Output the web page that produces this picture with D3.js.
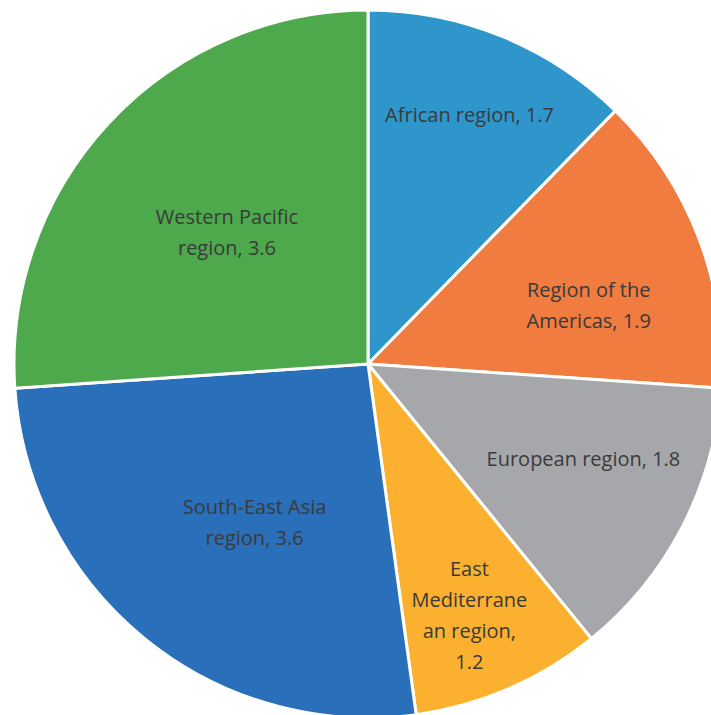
<!DOCTYPE html>
<meta charset="utf-8">
<script src="https://d3js.org/d3.v7.min.js"></script>
<style>
  body { margin: 0; background: #fff; }
</style>
<div id="my_dataviz"></div>
<script>
    // data, clockwise from 12 o'clock
    const regions = ["African region", "Region of the Americas", "European region",
                     "East Mediterranean region", "South-East Asia region", "Western Pacific region"];
    const values = [1.7, 1.9, 1.8, 1.2, 3.6, 3.6];
    // label text lines as they are wrapped in the chart
    const labelLines = [
        ["African region, 1.7"],
        ["Region of the", "Americas, 1.9"],
        ["European region, 1.8"],
        ["East", "Mediterrane", "an region,", "1.2"],
        ["South-East Asia", "region, 3.6"],
        ["Western Pacific", "region, 3.6"]
    ];

    const colors = ["#2F96CC", "#F07C3F", "#A6A7AA", "#FBB12F", "#2A6FBA", "#4DA94B"];
    // how far out each label sits (fraction of radius) and small angle nudge (degrees)
    const labelRadius = [0.76, 0.645, 0.665, 0.765, 0.55, 0.545];
    const labelNudge = [0, 6, -3.6, 1.5, -3.5, 0];

    const width = 711, height = 715;
    const cx = 368, cy = 364, radius = 354;

    const svg = d3.select("#my_dataviz")
        .append("svg")
        .attr("width", width)
        .attr("height", height)
        .append("g")
        .attr("transform", `translate(${cx},${cy})`);

    const data = regions.map((r, i) => ({region: r, value: values[i], i: i}));

    const pie = d3.pie()
        .value(d => d.value)
        .sort(null);

    const arcs = pie(data);

    const arc = d3.arc()
        .innerRadius(0)
        .outerRadius(radius);

    svg.selectAll("path")
        .data(arcs)
        .join("path")
        .attr("d", arc)
        .attr("fill", d => colors[d.data.i])
        .attr("stroke", "#fff")
        .attr("stroke-width", 3)
        .attr("stroke-linejoin", "round");

    const lineH = 31;
    const labels = svg.selectAll("text.lbl")
        .data(arcs)
        .join("text")
        .attr("class", "lbl")
        .attr("transform", d => {
            const a = (d.startAngle + d.endAngle) / 2 + labelNudge[d.data.i] * Math.PI / 180;
            const r = radius * labelRadius[d.data.i];
            return `translate(${r * Math.sin(a)},${-r * Math.cos(a)})`;
        })
        .attr("text-anchor", "middle")
        .style("font-family", "'Open Sans', sans-serif")
        .style("font-size", "20px")
        .style("fill", "#3a3a3a");

    labels.each(function(d) {
        const lines = labelLines[d.data.i];
        const t = d3.select(this);
        lines.forEach((ln, k) => {
            t.append("tspan")
                .attr("x", 0)
                .attr("y", (k - (lines.length - 1) / 2) * lineH)
                .attr("dy", "0.35em")
                .text(ln);
        });
    });
</script>
